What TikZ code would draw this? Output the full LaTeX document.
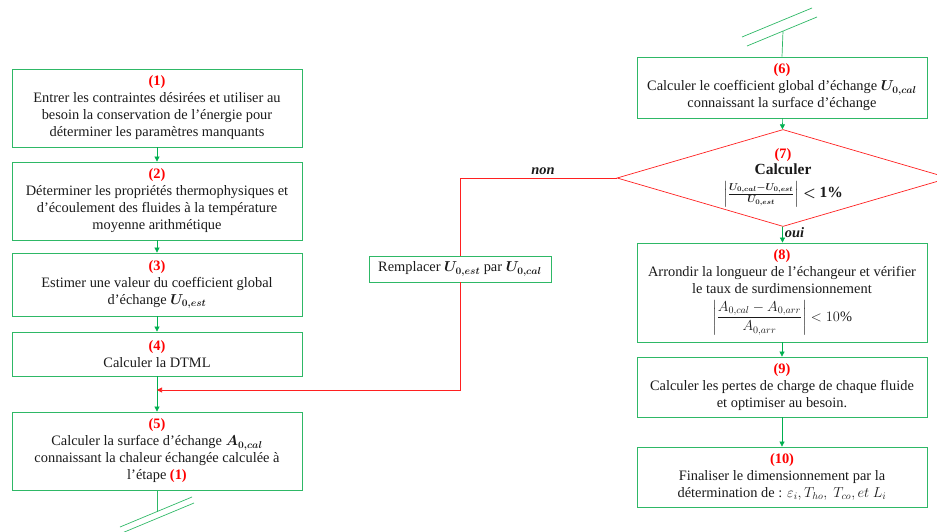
\documentclass[tikz,border=0pt]{standalone}
\usepackage{fontspec}
\usepackage{amsmath,bm}
\setmainfont{Liberation Serif}
\usetikzlibrary{positioning, arrows.meta, shapes.geometric}
\definecolor{clrstep}{HTML}{2EB866}
\definecolor{clrflow}{HTML}{00B050}
\definecolor{clrback}{HTML}{FF2020}
\definecolor{clrnum}{HTML}{FF0000}
\definecolor{clrtext}{HTML}{1A1A1A}

\newcommand{\stepnum}[1]{\textcolor{clrnum}{\textbf{(#1)}}}

\begin{document}
\begin{tikzpicture}[
    x=1pt, y=-1pt,
    >={Triangle[length=5pt, width=5pt]},
    every node/.style={font=\fontsize{14.4}{17}\selectfont, text=clrtext},
    stepbox/.style={draw=clrstep, line width=0.8pt, minimum width=290pt, inner sep=2pt, align=center},
    testbox/.style={diamond, draw=clrback, line width=0.7pt, aspect=3.4, minimum width=332pt,
                    minimum height=97pt, inner sep=0pt, align=center},
    flowarrow/.style={->, color=clrflow, line width=0.7pt},
    backarrow/.style={color=clrback, line width=0.6pt},
    cutline/.style={color=clrstep, line width=0.7pt},
    answer/.style={font=\fontsize{14.4}{17}\selectfont\bfseries\itshape},
]
\useasboundingbox (0,0) rectangle (937,532);

% left column
\node[stepbox, minimum height=78pt] (n_1) at (157,108) {\stepnum{1}\\Entrer les contraintes désirées et utiliser au\\besoin la conservation de l’énergie pour\\déterminer les paramètres manquants};
\node[stepbox, minimum height=78pt] (n_2) at (157,201) {\stepnum{2}\\Déterminer les propriétés thermophysiques et\\d’écoulement des fluides à la température\\moyenne arithmétique};
\node[stepbox, minimum height=63pt] (n_3) at (157,284.5) {\stepnum{3}\\Estimer une valeur du coefficient global\\d’échange $\bm{U_{0,est}}$};
\node[stepbox, minimum height=44pt] (n_4) at (157,354) {\stepnum{4}\\Calculer la DTML};
\node[stepbox, minimum height=78pt] (n_5) at (157,451) {\stepnum{5}\\Calculer la surface d’échange $\bm{A_{0,cal}}$\\connaissant la chaleur échangée calculée à\\l’étape \stepnum{1}};
\coordinate (merge) at (157,390);
\coordinate (cut_b) at (157,512);

% middle
\node[stepbox, minimum width=182pt, minimum height=26pt] (n_rep) at (460,269) {Remplacer $\bm{U_{0,est}}$ par $\bm{U_{0,cal}}$};

% right column
\coordinate (cut_t) at (783,31);
\node[stepbox, minimum height=61pt] (n_6) at (782,87.5) {\stepnum{6}\\Calculer le coefficient global d’échange $\bm{U_{0,cal}}$\\connaissant la surface d’échange};
\node[testbox] (n_7) at (783,178) {\stepnum{7}\\[-1pt]{\fontsize{15.5}{17}\selectfont\textbf{Calculer}}\\[6pt]$\left|\frac{\bm{U_{0,cal}-U_{0,est}}}{\bm{U_{0,est}}}\right| \bm{<}$ {\fontsize{15.5}{17}\selectfont\textbf{1\%}}};
\node[stepbox, minimum height=99pt] (n_8) at (782,292.5) {\stepnum{8}\\Arrondir la longueur de l’échangeur et vérifier\\le taux de surdimensionnement\\[5pt]$\left|\dfrac{A_{0,cal}-A_{0,arr}}{A_{0,arr}}\right| < 10\%$};
\node[stepbox, minimum height=60pt] (n_9) at (782,387) {\stepnum{9}\\Calculer les pertes de charge de chaque fluide\\et optimiser au besoin.};
\node[stepbox, minimum height=60pt] (n_10) at (782,477) {\stepnum{10}\\Finaliser le dimensionnement par la\\détermination de : $\varepsilon_i,T_{ho},\ T_{co},et\ L_i$};

% connectors
\draw[flowarrow] (n_1) -- (n_2);
\draw[flowarrow] (n_2) -- (n_3);
\draw[flowarrow] (n_3) -- (n_4);
\draw[flowarrow] (n_4) -- (n_5);
\draw[flowarrow] (n_6) -- (n_7);
\draw[flowarrow] (n_7) -- node[right, pos=0.4, inner sep=2pt, answer] {oui} (n_8);
\draw[flowarrow] (n_8) -- (n_9);
\draw[flowarrow] (n_9) -- (n_10);
\draw[backarrow] (n_7.west) -| node[above, pos=0.235, answer] {non} (n_rep.north);
\draw[backarrow, ->] (n_rep.south) |- (merge);

% cut marks
\draw[cutline] (n_5.south) -- (cut_b);
\draw[cutline] ([shift={(-37,15)}]cut_b) -- ([shift={(35,-15)}]cut_b);
\draw[cutline] ([shift={(-35,21)}]cut_b) -- ([shift={(37,-9)}]cut_b);
\draw[cutline] (cut_t) -- (n_6.north);
\draw[cutline] ([shift={(-36,15)}]cut_t) -- ([shift={(34,-14)}]cut_t);
\draw[cutline] ([shift={(-41,6)}]cut_t) -- ([shift={(29,-23)}]cut_t);
\end{tikzpicture}
\end{document}
